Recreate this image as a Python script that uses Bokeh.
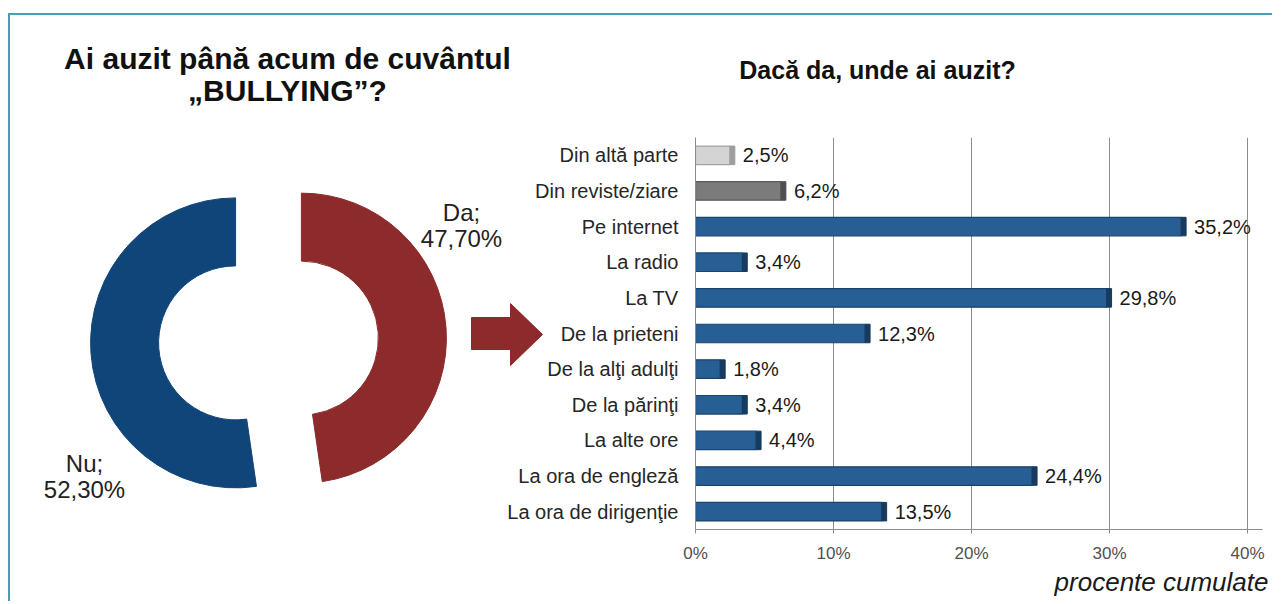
import numpy as np
from bokeh.plotting import figure
from bokeh.models import (Range1d, FactorRange, FixedTicker, PrintfTickFormatter,
                          ColumnDataSource, LabelSet)
from bokeh.layouts import row, column
from bokeh.embed import file_html
from bokeh.resources import INLINE
from bokeh.core.properties import value

# ---------------- data ----------------
pie_labels = ["Da", "Nu"]
pie_values = [47.7, 52.3]

categories = ["Din altă parte", "Din reviste/ziare", "Pe internet", "La radio", "La TV",
              "De la prieteni", "De la alţi adulţi", "De la părinţi", "La alte ore",
              "La ora de engleză", "La ora de dirigenţie"]
shares = [2.5, 6.2, 35.2, 3.4, 29.8, 12.3, 1.8, 3.4, 4.4, 24.4, 13.5]
x_ticks = [0, 10, 20, 30, 40]

left_title = ["Ai auzit până acum de cuvântul", "„BULLYING”?"]
right_title = "Dacă da, unde ai auzit?"
x_caption = "procente cumulate"

# ---------------- styles ----------------
FONT = value("Liberation Sans")
pie_colors = ["#8c2a2c", "#10457a"]
bar_fill = ["#d4d4d4", "#7b7b7b"] + ["#275e93"] * 9
bar_line = ["#a3a3a3", "#5a5a5a"] + ["#1b436c"] * 9
bar_cap = ["#9e9e9e", "#4f4f4f"] + ["#173a5f"] * 9
BORDER = "#4b9db3"
GRID = "#8c8c8c"

TOP, BOTTOM = 15, 601          # page y of the content
X0, X1 = 10, 1272              # page x of the whole panel
R_X0 = 503                     # page x where the bar figure starts
H = BOTTOM - TOP
AX_X0, AX_X40, FRAME_R = 695, 1247, 1262   # page x of 0 %, 40 % and of the frame's right edge

# ---------------- background panel: titles, donut, arrow ----------------
bg = figure(width=X1 - X0, height=H, x_range=Range1d(X0, X1),
            y_range=Range1d(-BOTTOM, -TOP), output_backend="svg",
            toolbar_location=None, x_axis_type=None, y_axis_type=None,
            min_border=0, outline_line_color=None)

bg.text(x=[287, 287], y=[-58, -90], text=left_title, text_align="center",
        text_baseline="middle", text_font=FONT, text_font_style="bold",
        text_font_size="30px", text_color="#111111")
bg.text(x=[877], y=[-69], text=[right_title], text_align="center",
        text_baseline="middle", text_font=FONT, text_font_style="bold",
        text_font_size="25px", text_color="#111111")
bg.text(x=[1268], y=[-581], text=[x_caption], text_align="right",
        text_baseline="middle", text_font=FONT, text_font_style="italic",
        text_font_size="26px", text_color="#1a1a1a")

fr = np.array(pie_values) / np.sum(pie_values)
start_cw = np.pi / 2 - np.concatenate([[0.0], np.cumsum(fr)[:-1]]) * 2 * np.pi
end_cw = start_cw - fr * 2 * np.pi
mid = (start_cw + end_cw) / 2
cx0, cy0, explode = 268, -340, 33
pie_src = ColumnDataSource(dict(
    x=cx0 + explode * np.cos(mid), y=cy0 + explode * np.sin(mid),
    start=end_cw, end=start_cw, color=pie_colors))
bg.annular_wedge(x="x", y="y", inner_radius=77, outer_radius=145,
                 start_angle="start", end_angle="end", color="color", source=pie_src)

label_pos = [(461, -212), (84, -463)]
for (lx, ly), name, v in zip(label_pos, pie_labels, pie_values):
    pct = f"{v:.2f}".replace(".", ",") + "%"
    bg.text(x=[lx, lx], y=[ly, ly - 26], text=[name + ";", pct], text_align="center",
            text_baseline="middle", text_font=FONT, text_font_size="24px",
            text_color="#222222")

# arrow
bg.patch(x=[471, 510, 510, 542, 510, 510, 471],
         y=[-317, -317, -303, -334, -365, -349, -349],
         fill_color="#8c2a2c", line_color="#8c2a2c")

# ---------------- bar chart (overlaid on the right) ----------------
x_end = x_ticks[-1] + (FRAME_R - AX_X40) / (AX_X40 - AX_X0) * x_ticks[-1]
bar = figure(width=X1 - R_X0, height=H, y_range=FactorRange(factors=categories[::-1]),
             x_range=Range1d(0, x_end), output_backend="svg", toolbar_location=None,
             min_border_left=AX_X0 - R_X0, min_border_right=X1 - FRAME_R,
             min_border_top=137 - TOP, min_border_bottom=BOTTOM - 529,
             outline_line_color=None)
bar.background_fill_color = None
bar.border_fill_color = None

bsrc = ColumnDataSource(dict(
    cat=categories, val=shares,
    cap_right=[v + 0.35 for v in shares],
    label=[f"{v:.1f}".replace(".", ",") + "%" for v in shares],
    fill=bar_fill, line=bar_line, cap=bar_cap))

bar.hbar(y="cat", left=0, right="val", height=0.52, fill_color="fill",
         line_color="line", line_width=1.2, source=bsrc)
bar.hbar(y="cat", left="val", right="cap_right", height=0.52, fill_color="cap",
         line_color="cap", source=bsrc)
bar.add_layout(LabelSet(x="cap_right", y="cat", text="label", x_offset=8,
                        text_baseline="middle", text_align="left",
                        text_font=value("Liberation Sans"), text_font_size="20px",
                        text_color="#1a1a1a", source=bsrc))

bar.xaxis.ticker = FixedTicker(ticks=x_ticks)
bar.xaxis.formatter = PrintfTickFormatter(format="%d%%")
bar.xaxis.major_label_text_font = "Liberation Sans"
bar.xaxis.major_label_text_font_size = "17px"
bar.xaxis.major_label_text_color = "#505050"
bar.xaxis.axis_line_color = GRID
bar.xaxis.major_tick_line_color = GRID
bar.xaxis.major_tick_out = 4
bar.xaxis.major_tick_in = 0
bar.xaxis.minor_tick_line_color = None
bar.xaxis.major_label_standoff = 10

bar.yaxis.axis_line_color = GRID
bar.yaxis.major_tick_line_color = None
bar.yaxis.major_tick_out = 0
bar.yaxis.major_tick_in = 0
bar.yaxis.minor_tick_line_color = None
bar.yaxis.major_label_text_font = "Liberation Sans"
bar.yaxis.major_label_text_font_size = "20px"
bar.yaxis.major_label_text_color = "#262626"
bar.yaxis.major_label_standoff = 17

bar.ygrid.grid_line_color = None
bar.xgrid.ticker = FixedTicker(ticks=x_ticks)
bar.xgrid.grid_line_color = GRID

right = column(bar, margin=(0, 0, 0, -(X1 - R_X0)))
layout = row(bg, right, margin=(13, 0, 0, 8),
             styles={"border-top": f"2px solid {BORDER}", "border-left": f"2px solid {BORDER}"})

open("out.html", "w").write(file_html(layout, INLINE))
